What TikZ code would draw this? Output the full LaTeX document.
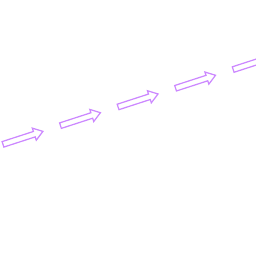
\documentclass[tikz,border=0pt]{standalone}
\usepackage{tikz}
\usetikzlibrary{shapes.arrows}
\definecolor{lilac}{HTML}{CC88FF}
\tikzset{
	flowarrow/.style={single arrow, draw=lilac, line width=0.7pt, fill=white,
		minimum height=0.84cm, inner sep=0.045cm,
		text height=0pt, text depth=0pt, single arrow head extend=0.07cm,
		single arrow tip angle=70, rotate=18},
}
\begin{document}
\begin{tikzpicture}[x=0.02cm, y=0.02cm]
			\useasboundingbox (0,0) rectangle (256,256);
			\node[flowarrow] (a1) at (21,117.5) {};
			\node[flowarrow] (a2) at (78.5,136.2) {};
			\node[flowarrow] (a3) at (136.1,154.9) {};
			\node[flowarrow] (a4) at (193.6,173.6) {};
			\node[flowarrow] (a5) at (251.2,192.3) {};
		\end{tikzpicture}
\end{document}
